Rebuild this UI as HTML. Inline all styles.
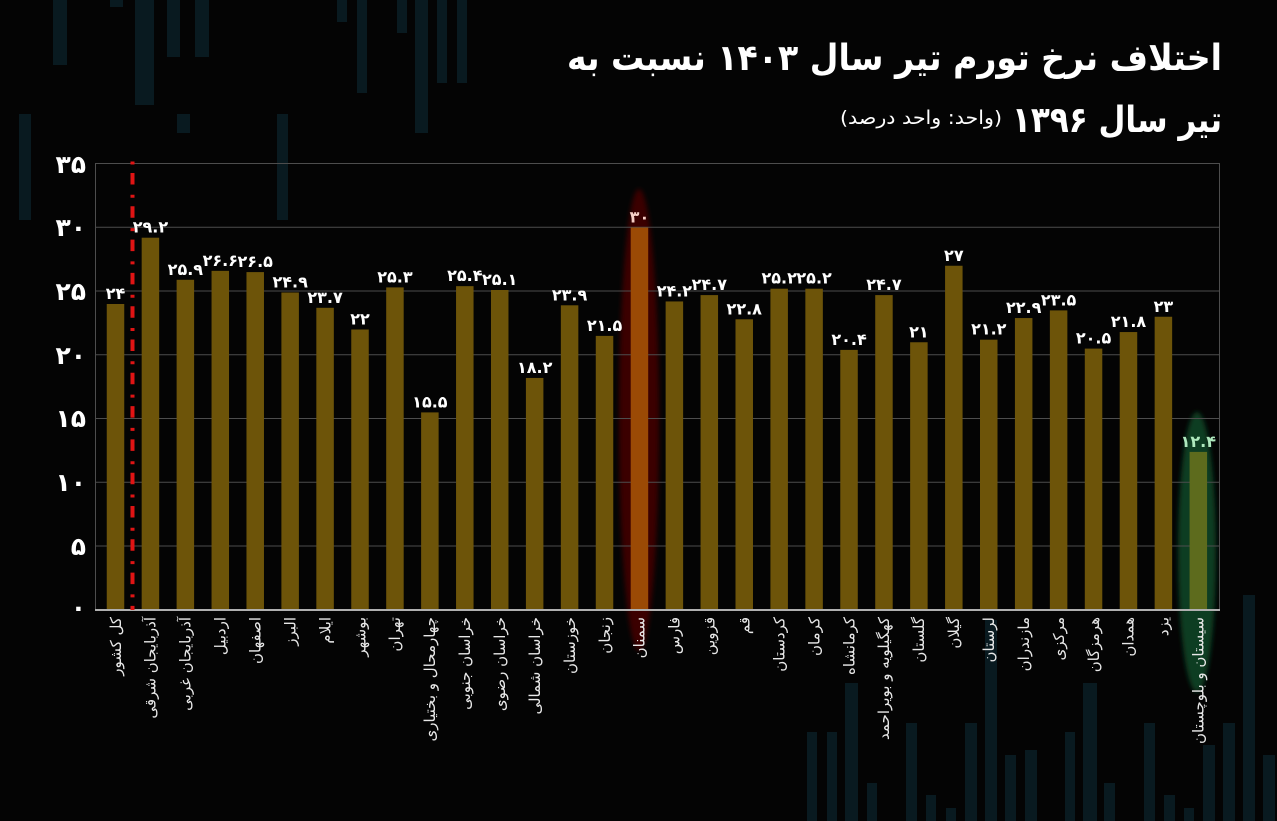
<!DOCTYPE html>
<html lang="fa">
<head>
<meta charset="utf-8">
<style>
  html, body { margin:0; padding:0; background:#040404; }
  body { width:1277px; height:821px; overflow:hidden; }
  svg { display:block; }
  text { font-family: "DejaVu Sans", "Liberation Sans", sans-serif; }
</style>
</head>
<body>
<svg width="1277" height="821" viewBox="0 0 1277 821" xmlns="http://www.w3.org/2000/svg">
  <defs>
    <filter id="soft" x="-50%" y="-10%" width="200%" height="120%">
      <feGaussianBlur stdDeviation="2.5"/>
    </filter>
  </defs>

  <rect x="0" y="0" width="1277" height="821" fill="#040404"/>

  <!-- background decoration bars -->
  <g fill="#091a20">
    <rect x="53" y="0" width="14" height="65"/>
    <rect x="110" y="0" width="13" height="7"/>
    <rect x="135" y="0" width="19" height="105"/>
    <rect x="167" y="0" width="13" height="57"/>
    <rect x="195" y="0" width="14" height="57"/>
    <rect x="337" y="0" width="10" height="22"/>
    <rect x="357" y="0" width="10" height="93"/>
    <rect x="397" y="0" width="10" height="33"/>
    <rect x="415" y="0" width="13" height="133"/>
    <rect x="437" y="0" width="10" height="83"/>
    <rect x="457" y="0" width="10" height="83"/>
    <rect x="19" y="114" width="12" height="106"/>
    <rect x="177" y="114" width="13" height="19"/>
    <rect x="277" y="114" width="11" height="106"/>

    <rect x="807" y="732" width="10" height="89"/>
    <rect x="827" y="732" width="10" height="89"/>
    <rect x="845" y="683" width="13" height="138"/>
    <rect x="867" y="783" width="10" height="38"/>
    <rect x="906" y="723" width="11" height="98"/>
    <rect x="926" y="795" width="10" height="26"/>
    <rect x="946" y="808" width="10" height="13"/>
    <rect x="965" y="723" width="12" height="98"/>
    <rect x="985" y="620" width="12" height="201"/>
    <rect x="1005" y="755" width="11" height="66"/>
    <rect x="1025" y="750" width="12" height="71"/>
    <rect x="1065" y="732" width="10" height="89"/>
    <rect x="1083" y="683" width="14" height="138"/>
    <rect x="1104" y="783" width="11" height="38"/>
    <rect x="1144" y="723" width="11" height="98"/>
    <rect x="1164" y="795" width="11" height="26"/>
    <rect x="1184" y="808" width="10" height="13"/>
    <rect x="1203" y="745" width="12" height="76"/>
    <rect x="1223" y="723" width="12" height="98"/>
    <rect x="1243" y="595" width="12" height="226"/>
    <rect x="1263" y="755" width="12" height="66"/>
  </g>

  <!-- Title -->
  <text x="1222" y="70" text-anchor="end" font-size="36" font-weight="bold" fill="#ffffff" textLength="655" lengthAdjust="spacingAndGlyphs">اختلاف نرخ تورم تیر سال ۱۴۰۳ نسبت به</text>
  <text x="1222" y="132" text-anchor="end" font-size="36" font-weight="bold" fill="#ffffff" textLength="210" lengthAdjust="spacingAndGlyphs">تیر سال ۱۳۹۶</text>
  <text x="1002" y="124" text-anchor="end" font-size="19" fill="#ffffff" textLength="162" lengthAdjust="spacingAndGlyphs">(واحد: واحد درصد)</text>

  <!-- glows -->
  <ellipse cx="639" cy="420" rx="20" ry="231" fill="#3a0505" filter="url(#soft)"/>
  <ellipse cx="1197" cy="552" rx="19" ry="140" fill="#0c3c21" filter="url(#soft)"/>

  <!-- grid -->
  <g stroke="#4d4d4d" stroke-width="1">
    <line x1="95" y1="163.5" x2="1220" y2="163.5"/>
    <line x1="95" y1="227.3" x2="1220" y2="227.3"/>
    <line x1="95" y1="291" x2="1220" y2="291"/>
    <line x1="95" y1="354.8" x2="1220" y2="354.8"/>
    <line x1="95" y1="418.5" x2="1220" y2="418.5"/>
    <line x1="95" y1="482.3" x2="1220" y2="482.3"/>
    <line x1="95" y1="546" x2="1220" y2="546"/>
    <line x1="95.5" y1="163" x2="95.5" y2="610"/>
    <line x1="1219.5" y1="163" x2="1219.5" y2="610"/>
  </g>

  <!-- bars -->
  <g fill="#6d5409">
    <rect x="106.75" y="304" width="17.5" height="306"/>
    <rect x="141.68" y="237.7" width="17.5" height="372.3"/>
    <rect x="176.61" y="279.8" width="17.5" height="330.2"/>
    <rect x="211.54" y="270.85" width="17.5" height="339.15"/>
    <rect x="246.47" y="272.1" width="17.5" height="337.9"/>
    <rect x="281.4" y="292.5" width="17.5" height="317.5"/>
    <rect x="316.33" y="307.8" width="17.5" height="302.2"/>
    <rect x="351.26" y="329.5" width="17.5" height="280.5"/>
    <rect x="386.19" y="287.4" width="17.5" height="322.6"/>
    <rect x="421.12" y="412.4" width="17.5" height="197.6"/>
    <rect x="456.05" y="286.15" width="17.5" height="323.85"/>
    <rect x="490.98" y="290" width="17.5" height="320"/>
    <rect x="525.91" y="377.95" width="17.5" height="232.05"/>
    <rect x="560.84" y="305.3" width="17.5" height="304.7"/>
    <rect x="595.77" y="335.9" width="17.5" height="274.1"/>
    <rect x="665.63" y="301.45" width="17.5" height="308.55"/>
    <rect x="700.56" y="295.1" width="17.5" height="314.9"/>
    <rect x="735.49" y="319.3" width="17.5" height="290.7"/>
    <rect x="770.42" y="288.7" width="17.5" height="321.3"/>
    <rect x="805.35" y="288.7" width="17.5" height="321.3"/>
    <rect x="840.28" y="349.9" width="17.5" height="260.1"/>
    <rect x="875.21" y="295.1" width="17.5" height="314.9"/>
    <rect x="910.14" y="342.25" width="17.5" height="267.75"/>
    <rect x="945.07" y="265.75" width="17.5" height="344.25"/>
    <rect x="980" y="339.7" width="17.5" height="270.3"/>
    <rect x="1014.93" y="318.05" width="17.5" height="291.95"/>
    <rect x="1049.86" y="310.4" width="17.5" height="299.6"/>
    <rect x="1084.79" y="348.6" width="17.5" height="261.4"/>
    <rect x="1119.72" y="332.05" width="17.5" height="277.95"/>
    <rect x="1154.65" y="316.75" width="17.5" height="293.25"/>
  </g>
  <rect x="630.7" y="227.5" width="17.5" height="382.5" fill="#9b4a05"/>
  <rect x="1189.58" y="451.9" width="17.5" height="158.1" fill="#5d6b1d"/>

  <!-- x axis -->
  <line x1="95" y1="610" x2="1220" y2="610" stroke="#b0b0b0" stroke-width="2"/>

  <!-- red dash-dot line -->
  <line x1="132.5" y1="161.5" x2="132.5" y2="610" stroke="#e01414" stroke-width="4" stroke-dasharray="3 8.5 11.5 10.3"/>

  <!-- y tick labels -->
  <g font-size="25" font-weight="bold" fill="#ffffff" text-anchor="end">
    <text x="86" y="173">۳۵</text>
    <text x="86" y="236">۳۰</text>
    <text x="86" y="300">۲۵</text>
    <text x="86" y="364">۲۰</text>
    <text x="86" y="427">۱۵</text>
    <text x="86" y="491">۱۰</text>
    <text x="86" y="555">۵</text>
    <text x="86" y="616">۰</text>
  </g>

  <!-- value labels -->
  <g font-size="16" font-weight="bold" fill="#ffffff" text-anchor="middle">
    <text x="115.5" y="299">۲۴</text>
    <text x="150.43" y="232.7">۲۹.۲</text>
    <text x="185.36" y="274.8">۲۵.۹</text>
    <text x="220.29" y="265.85">۲۶.۶</text>
    <text x="255.22" y="267.1">۲۶.۵</text>
    <text x="290.15" y="287.5">۲۴.۹</text>
    <text x="325.08" y="302.8">۲۳.۷</text>
    <text x="360.01" y="324.5">۲۲</text>
    <text x="394.94" y="282.4">۲۵.۳</text>
    <text x="429.87" y="407.4">۱۵.۵</text>
    <text x="464.8" y="281.15">۲۵.۴</text>
    <text x="499.73" y="285">۲۵.۱</text>
    <text x="534.66" y="372.95">۱۸.۲</text>
    <text x="569.59" y="300.3">۲۳.۹</text>
    <text x="604.52" y="330.9">۲۱.۵</text>
    <text x="639.45" y="222.5" fill="#f6cfc6">۳۰</text>
    <text x="674.38" y="296.45">۲۴.۲</text>
    <text x="709.31" y="290.1">۲۴.۷</text>
    <text x="744.24" y="314.3">۲۲.۸</text>
    <text x="779.17" y="283.7">۲۵.۲</text>
    <text x="814.1" y="283.7">۲۵.۲</text>
    <text x="849.03" y="344.9">۲۰.۴</text>
    <text x="883.96" y="290.1">۲۴.۷</text>
    <text x="918.89" y="337.25">۲۱</text>
    <text x="953.82" y="260.75">۲۷</text>
    <text x="988.75" y="334.7">۲۱.۲</text>
    <text x="1023.68" y="313.05">۲۲.۹</text>
    <text x="1058.61" y="305.4">۲۳.۵</text>
    <text x="1093.54" y="343.6">۲۰.۵</text>
    <text x="1128.47" y="327.05">۲۱.۸</text>
    <text x="1163.4" y="311.75">۲۳</text>
    <text x="1198.33" y="446.9" fill="#aee8bd">۱۲.۴</text>
  </g>

  <!-- category labels (rotated) -->
  <g font-size="15" fill="#e8e8e8" text-anchor="end">
    <text transform="translate(115.5,617) rotate(-90)" dy="0.35em">کل کشور</text>
    <text transform="translate(150.43,617) rotate(-90)" dy="0.35em">آذربایجان شرقی</text>
    <text transform="translate(185.36,617) rotate(-90)" dy="0.35em">آذربایجان غربی</text>
    <text transform="translate(220.29,617) rotate(-90)" dy="0.35em">اردبیل</text>
    <text transform="translate(255.22,617) rotate(-90)" dy="0.35em">اصفهان</text>
    <text transform="translate(290.15,617) rotate(-90)" dy="0.35em">البرز</text>
    <text transform="translate(325.08,617) rotate(-90)" dy="0.35em">ایلام</text>
    <text transform="translate(360.01,617) rotate(-90)" dy="0.35em">بوشهر</text>
    <text transform="translate(394.94,617) rotate(-90)" dy="0.35em">تهران</text>
    <text transform="translate(429.87,617) rotate(-90)" dy="0.35em">چهارمحال و بختیاری</text>
    <text transform="translate(464.8,617) rotate(-90)" dy="0.35em">خراسان جنوبی</text>
    <text transform="translate(499.73,617) rotate(-90)" dy="0.35em">خراسان رضوی</text>
    <text transform="translate(534.66,617) rotate(-90)" dy="0.35em">خراسان شمالی</text>
    <text transform="translate(569.59,617) rotate(-90)" dy="0.35em">خوزستان</text>
    <text transform="translate(604.52,617) rotate(-90)" dy="0.35em">زنجان</text>
    <text transform="translate(639.45,617) rotate(-90)" dy="0.35em">سمنان</text>
    <text transform="translate(674.38,617) rotate(-90)" dy="0.35em">فارس</text>
    <text transform="translate(709.31,617) rotate(-90)" dy="0.35em">قزوین</text>
    <text transform="translate(744.24,617) rotate(-90)" dy="0.35em">قم</text>
    <text transform="translate(779.17,617) rotate(-90)" dy="0.35em">کردستان</text>
    <text transform="translate(814.1,617) rotate(-90)" dy="0.35em">کرمان</text>
    <text transform="translate(849.03,617) rotate(-90)" dy="0.35em">کرمانشاه</text>
    <text transform="translate(883.96,617) rotate(-90)" dy="0.35em">کهگیلویه و بویراحمد</text>
    <text transform="translate(918.89,617) rotate(-90)" dy="0.35em">گلستان</text>
    <text transform="translate(953.82,617) rotate(-90)" dy="0.35em">گیلان</text>
    <text transform="translate(988.75,617) rotate(-90)" dy="0.35em">لرستان</text>
    <text transform="translate(1023.68,617) rotate(-90)" dy="0.35em">مازندران</text>
    <text transform="translate(1058.61,617) rotate(-90)" dy="0.35em">مرکزی</text>
    <text transform="translate(1093.54,617) rotate(-90)" dy="0.35em">هرمزگان</text>
    <text transform="translate(1128.47,617) rotate(-90)" dy="0.35em">همدان</text>
    <text transform="translate(1163.4,617) rotate(-90)" dy="0.35em">یزد</text>
    <text transform="translate(1198.33,617) rotate(-90)" dy="0.35em">سیستان و بلوچستان</text>
  </g>
</svg>
</body>
</html>
